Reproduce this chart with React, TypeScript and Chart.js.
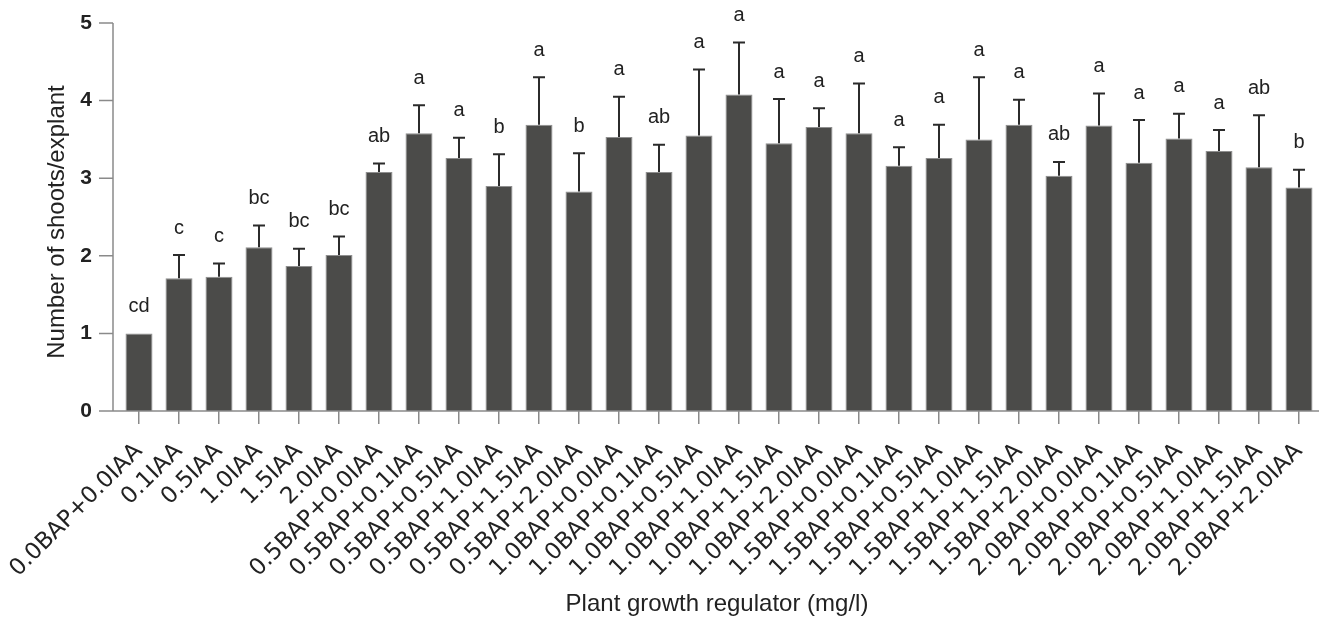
import React, { useEffect, useRef } from "react";
import { Chart, registerables } from "chart.js";

Chart.register(...registerables);

const categories = [
  "0.0BAP+0.0IAA", "0.1IAA", "0.5IAA", "1.0IAA", "1.5IAA", "2.0IAA",
  "0.5BAP+0.0IAA", "0.5BAP+0.1IAA", "0.5BAP+0.5IAA", "0.5BAP+1.0IAA", "0.5BAP+1.5IAA", "0.5BAP+2.0IAA",
  "1.0BAP+0.0IAA", "1.0BAP+0.1IAA", "1.0BAP+0.5IAA", "1.0BAP+1.0IAA", "1.0BAP+1.5IAA", "1.0BAP+2.0IAA",
  "1.5BAP+0.0IAA", "1.5BAP+0.1IAA", "1.5BAP+0.5IAA", "1.5BAP+1.0IAA", "1.5BAP+1.5IAA", "1.5BAP+2.0IAA",
  "2.0BAP+0.0IAA", "2.0BAP+0.1IAA", "2.0BAP+0.5IAA", "2.0BAP+1.0IAA", "2.0BAP+1.5IAA", "2.0BAP+2.0IAA",
];

const means = [
  1.0, 1.71, 1.73, 2.11, 1.87, 2.01,
  3.08, 3.58, 3.26, 2.9, 3.69, 2.83,
  3.53, 3.08, 3.55, 4.08, 3.45, 3.66,
  3.58, 3.16, 3.26, 3.5, 3.69, 3.03,
  3.68, 3.2, 3.51, 3.35, 3.14, 2.88,
];

const errors = [
  0, 0.3, 0.17, 0.28, 0.22, 0.24,
  0.11, 0.36, 0.26, 0.41, 0.61, 0.49,
  0.52, 0.35, 0.85, 0.67, 0.57, 0.24,
  0.64, 0.24, 0.43, 0.8, 0.32, 0.18,
  0.41, 0.55, 0.32, 0.27, 0.67, 0.23,
];

const letters = [
  "cd", "c", "c", "bc", "bc", "bc",
  "ab", "a", "a", "b", "a", "b",
  "a", "ab", "a", "a", "a", "a",
  "a", "a", "a", "a", "a", "ab",
  "a", "a", "a", "a", "ab", "b",
];

const yTicks = [0, 1, 2, 3, 4, 5];

const xTitle = "Plant growth regulator (mg/l)";
const yTitle = "Number of shoots/explant";

export default function App() {
  const ref = useRef<HTMLCanvasElement>(null);

  useEffect(() => {
    if (!ref.current) return;
    const AXIS_GAP = 6;
    const overlay = {
      id: "overlay",
      afterDatasetsDraw(chart: any) {
        const { ctx, chartArea, scales } = chart;
        const xs = scales.x;
        const ys = scales.y;
        const ax = chartArea.left - AXIS_GAP;
        const y0 = ys.getPixelForValue(0);
        ctx.save();
        // axes
        ctx.strokeStyle = "#8a8a8a";
        ctx.lineWidth = 1.5;
        ctx.beginPath();
        ctx.moveTo(ax, ys.getPixelForValue(yTicks[yTicks.length - 1]));
        ctx.lineTo(ax, y0);
        ctx.lineTo(chart.width, y0);
        yTicks.forEach((t) => {
          const py = ys.getPixelForValue(t);
          ctx.moveTo(ax - 14, py);
          ctx.lineTo(ax, py);
        });
        ctx.stroke();
        // error bars
        ctx.strokeStyle = "#2b2b2b";
        ctx.lineWidth = 2;
        ctx.beginPath();
        means.forEach((m, i) => {
          if (!errors[i]) return;
          const px = xs.getPixelForValue(i);
          const top = ys.getPixelForValue(m);
          const cap = ys.getPixelForValue(m + errors[i]);
          ctx.moveTo(px, top);
          ctx.lineTo(px, cap);
          ctx.moveTo(px - 6, cap);
          ctx.lineTo(px + 6, cap);
        });
        ctx.stroke();
        // significance letters
        ctx.fillStyle = "#222";
        ctx.font = "20px 'Liberation Sans', Arial, sans-serif";
        ctx.textAlign = "center";
        ctx.textBaseline = "middle";
        letters.forEach((l, i) => {
          const px = xs.getPixelForValue(i);
          const cap = ys.getPixelForValue(means[i] + errors[i]);
          ctx.fillText(l, px, cap - 27);
        });
        // titles
        ctx.font = "24px 'Liberation Sans', Arial, sans-serif";
        ctx.fillText(xTitle, (chartArea.left + chartArea.right) / 2 - 2, 604);
        ctx.translate(57, 222);
        ctx.rotate(-Math.PI / 2);
        ctx.fillText(yTitle, 0, 0);
        ctx.restore();
      },
    };

    const chart = new Chart(ref.current, {
      type: "bar",
      data: {
        labels: categories,
        datasets: [
          {
            data: means,
            backgroundColor: "#4b4b49",
            borderColor: "#8f8f8f",
            borderWidth: 1,
            barPercentage: 0.675,
            categoryPercentage: 1,
          },
        ],
      },
      options: {
        animation: false,
        responsive: true,
        maintainAspectRatio: false,
        layout: { padding: { top: 23, right: 0, bottom: 0, left: 0 } },
        plugins: { legend: { display: false }, tooltip: { enabled: false } },
        scales: {
          x: {
            offset: true,
            grid: {
              display: true,
              drawOnChartArea: false,
              drawTicks: true,
              tickLength: 13,
              offset: false,
              color: "#8a8a8a",
              lineWidth: 1.5,
            },
            border: { display: false },
            ticks: {
              autoSkip: false,
              minRotation: 45,
              maxRotation: 45,
              padding: 14,
              color: "#222",
              font: { family: "'DejaVu Sans', sans-serif", size: 23 },
            },
            afterFit: (scale: any) => {
              scale.height = 206;
              scale.paddingLeft = 0;
              scale.paddingRight = 0;
              scale.paddingTop = 0;
              scale.paddingBottom = 0;
            },
          },
          y: {
            min: 0,
            max: 5,
            grid: { display: false, drawTicks: false },
            border: { display: false },
            ticks: {
              stepSize: 1,
              padding: 27,
              color: "#222",
              font: { family: "'Liberation Sans', Arial, sans-serif", size: 21, weight: "bold" },
            },
            afterFit: (scale: any) => {
              scale.width = 119;
              scale.paddingLeft = 0;
              scale.paddingRight = 0;
              scale.paddingTop = 0;
              scale.paddingBottom = 0;
            },
          },
        },
      },
      plugins: [overlay],
    });
    return () => chart.destroy();
  }, []);

  return (
    <div style={{ position: "fixed", left: 0, top: 0, width: 1319, height: 617, background: "#fff" }}>
      <canvas ref={ref} />
    </div>
  );
}
